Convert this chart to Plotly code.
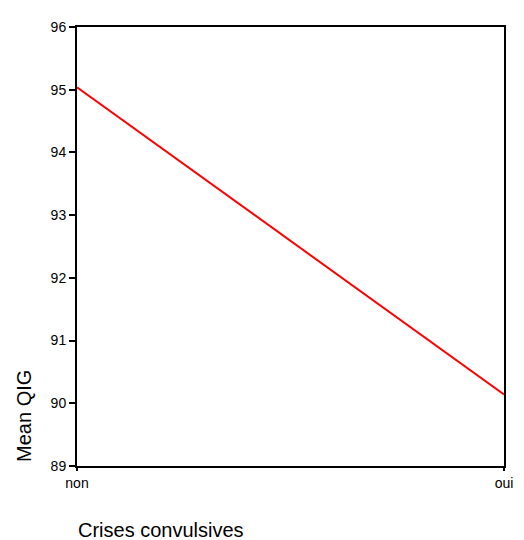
import plotly.graph_objects as go

categories = ["non", "oui"]
mean_qig = [95.04, 90.14]
y_ticks = [89, 90, 91, 92, 93, 94, 95, 96]

# page body has an 8px margin, so the figure is drawn at (8, 8)
OFF = 8
W, H = 524 - OFF, 540 - OFF
L, T = 77 - OFF, 20 - OFF
R = W - (513 - OFF)
B = H - (466 - OFF)
pw, ph = W - L - R, H - T - B

fig = go.Figure()
fig.add_trace(go.Scatter(
    x=categories, y=mean_qig, mode="lines",
    line=dict(color="#ff0000", width=2),
    showlegend=False, hoverinfo="skip"
))

font = dict(family="Liberation Sans, Arial, sans-serif", color="black")

def px_x(x):
    return (x - OFF - L) / pw

def px_y(y):
    return (T + ph - (y - OFF)) / ph

fig.update_layout(
    width=W, height=H,
    margin=dict(l=L, r=R, t=T, b=B, pad=0),
    paper_bgcolor="white", plot_bgcolor="white",
    font=font,
    xaxis=dict(
        type="category", range=[0, 1],
        showline=True, linecolor="black", linewidth=2, mirror=True,
        showgrid=False, zeroline=False,
        ticks="outside", ticklen=3, tickwidth=1.5, tickcolor="black",
        tickfont=dict(size=14, **font),
    ),
    yaxis=dict(
        range=[89, 96], tickvals=y_ticks, ticktext=[str(v) for v in y_ticks],
        showline=True, linecolor="black", linewidth=2, mirror=True,
        showgrid=False, zeroline=False,
        ticks="outside", ticklen=6, tickwidth=2, tickcolor="black",
        tickfont=dict(size=14, **font),
    ),
    annotations=[
        dict(text="Mean QIG", textangle=-90, showarrow=False,
             xref="paper", yref="paper",
             x=px_x(23), y=px_y(415),
             xanchor="center", yanchor="middle",
             font=dict(size=20, **font)),
        dict(text="Crises convulsives", showarrow=False,
             xref="paper", yref="paper",
             x=px_x(76), y=px_y(531),
             xanchor="left", yanchor="middle",
             font=dict(size=20, **font)),
    ],
)

fig.write_html("out.html")
